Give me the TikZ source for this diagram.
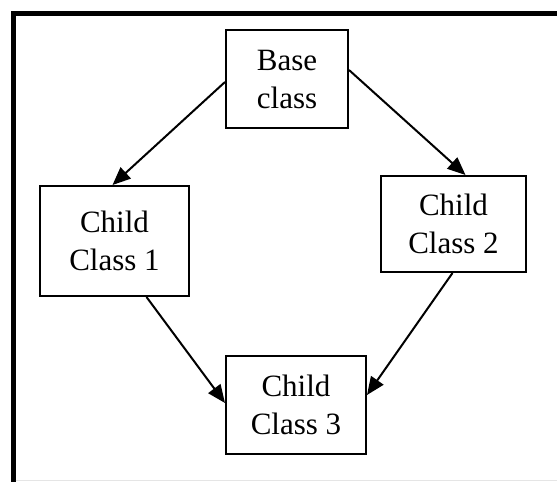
\documentclass[tikz,border=0pt]{standalone}
\usepackage{fontspec}
\setmainfont{Liberation Serif}
\usetikzlibrary{arrows.meta}
\begin{document}
\begin{tikzpicture}[x=1pt,y=-1pt,
  classbox/.style={draw=black,line width=2pt,inner sep=0pt,align=center,
    font=\fontsize{31}{38}\selectfont},
  link/.style={line width=2pt,-{Triangle[length=18pt,width=15pt]}}]
\useasboundingbox (0,0) rectangle (557,482);
% outer frame (left and top edges only)
\draw[line width=5pt] (13,482) -- (13,13.5) -- (557,13.5);
\draw[line width=0.8pt,black!10] (15.5,480.5) -- (557,480.5);
% class boxes
\node[classbox,minimum width=122pt,minimum height=98pt] (base) at (287,79) {Base\\class};
\node[classbox,minimum width=149pt,minimum height=110pt] (c1) at (114.5,241) {Child\\Class 1};
\node[classbox,minimum width=145pt,minimum height=96pt] (c2) at (453.5,224) {Child\\Class 2};
\node[classbox,minimum width=140pt,minimum height=98pt] (c3) at (296,405) {Child\\Class 3};
% inheritance arrows
\draw[link] ([yshift=-3pt]base.west) -- ([xshift=-2pt]c1.north);
\draw[link] ([yshift=9pt]base.east) -- ([xshift=12pt]c2.north);
\draw[link] ([xshift=32pt]c1.south) -- ([yshift=2pt]c3.west);
\draw[link] ([xshift=-1pt]c2.south) -- ([yshift=10pt]c3.east);
\end{tikzpicture}
\end{document}
